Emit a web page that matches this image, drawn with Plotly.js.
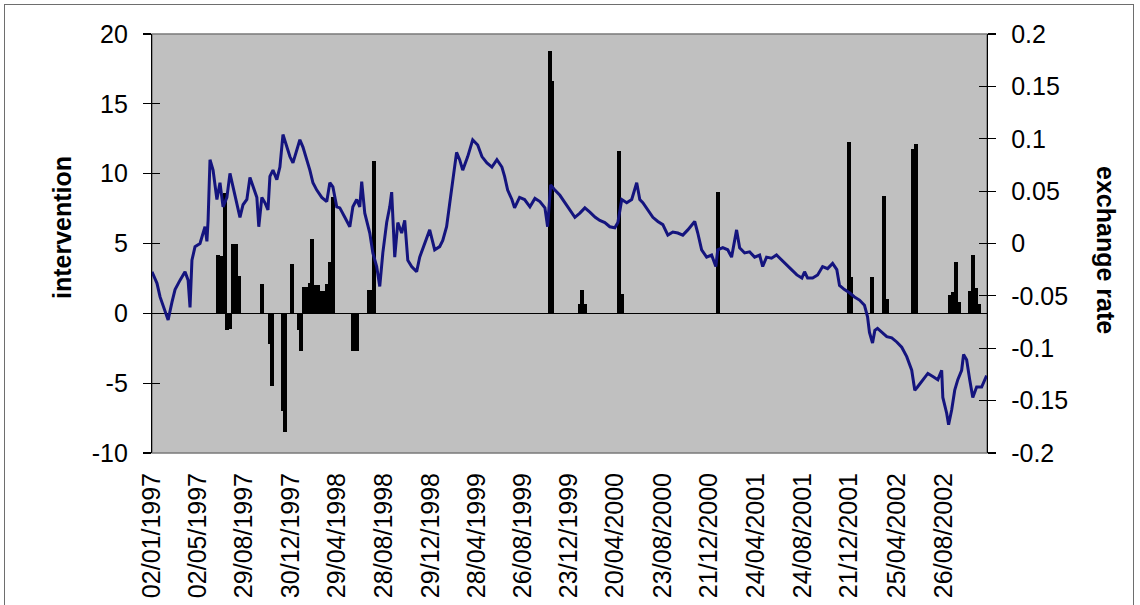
<!DOCTYPE html>
<html>
<head>
<meta charset="utf-8">
<script src="https://cdn.plot.ly/plotly-3.0.1.min.js"></script>
<style>
  html, body { margin:0; padding:0; background:#fff; }
  #wrap { position:relative; width:1140px; height:605px; overflow:hidden; }
  #chart { position:absolute; left:0; top:0; width:1140px; height:605px; }
  #frame { position:absolute; left:4px; top:4px; width:1128px; height:640px; border:1px solid #6e6e6e; pointer-events:none; }
</style>
</head>
<body>
<div id="wrap"><div id="chart"></div><div id="frame"></div></div>
<script>
// ---- Data ----
const lineDates = [
'1997-01-02','1997-01-15','1997-01-23','1997-01-31','1997-02-13','1997-02-23','1997-03-03','1997-03-16','1997-03-29','1997-04-06',
'1997-04-11','1997-04-16','1997-04-24','1997-05-07','1997-05-20','1997-05-25','1997-05-28','1997-06-02','1997-06-10','1997-06-20',
'1997-06-28','1997-07-06','1997-07-16','1997-07-24','1997-08-01','1997-08-11','1997-08-19','1997-08-27','1997-09-06','1997-09-14',
'1997-09-22','1997-10-02','1997-10-07','1997-10-15','1997-10-23','1997-10-31','1997-11-05','1997-11-13','1997-11-23','1997-12-01',
'1997-12-09','1997-12-19','1997-12-27','1998-01-04','1998-01-14','1998-01-22','1998-01-30','1998-02-09','1998-02-17','1998-02-25',
'1998-03-07','1998-03-20','1998-04-02','1998-04-10','1998-04-18','1998-04-28','1998-05-06','1998-05-19','1998-06-01','1998-06-09',
'1998-06-19','1998-06-27','1998-07-02','1998-07-10','1998-07-23','1998-07-31','1998-08-10','1998-08-18','1998-08-26','1998-09-05',
'1998-09-13','1998-09-18','1998-09-21','1998-09-26','1998-10-04','1998-10-14','1998-10-22','1998-10-30','1998-11-09','1998-11-22',
'1998-11-30','1998-12-13','1998-12-26','1999-01-08','1999-01-21','1999-01-29','1999-02-08','1999-02-16','1999-02-24','1999-03-06',
'1999-03-14','1999-03-22','1999-04-04','1999-04-17','1999-04-30','1999-05-11','1999-05-24','1999-06-06','1999-06-19','1999-07-02',
'1999-07-09','1999-07-17','1999-07-28','1999-08-04','1999-08-17','1999-08-30','1999-09-13','1999-09-26','1999-10-09','1999-10-22',
'1999-10-29','1999-11-06','1999-11-17','1999-11-30','1999-12-13','1999-12-26','2000-01-08','2000-01-21','2000-02-03','2000-02-16',
'2000-03-01','2000-03-13','2000-03-26','2000-04-08','2000-04-21','2000-04-29','2000-05-09','2000-05-22','2000-06-04','2000-06-17',
'2000-06-25','2000-07-03','2000-07-16','2000-07-29','2000-08-11','2000-08-24','2000-09-06','2000-09-19','2000-10-02','2000-10-15',
'2000-10-28','2000-11-15','2000-11-23','2000-12-03','2000-12-16','2000-12-29','2001-01-09','2001-01-14','2001-01-27','2001-02-09',
'2001-02-19','2001-02-27','2001-03-04','2001-03-12','2001-03-25','2001-04-07','2001-04-20','2001-05-03','2001-05-11','2001-05-21',
'2001-06-03','2001-06-16','2001-06-29','2001-07-12','2001-07-25','2001-08-08','2001-08-21','2001-08-28','2001-09-05','2001-09-18',
'2001-10-01','2001-10-14','2001-10-27','2001-11-09','2001-11-20','2001-11-27','2001-12-10','2001-12-23','2002-01-05','2002-01-18',
'2002-01-31','2002-02-08','2002-02-13','2002-02-21','2002-02-27','2002-03-06','2002-03-17','2002-03-30','2002-04-12','2002-04-25',
'2002-05-08','2002-05-21','2002-06-03','2002-06-11','2002-06-18','2002-07-02','2002-07-15','2002-07-28','2002-08-10','2002-08-20',
'2002-08-23','2002-09-02','2002-09-07','2002-09-15','2002-09-23','2002-10-01','2002-10-11','2002-10-16','2002-10-24','2002-11-01',
'2002-11-09','2002-11-19','2002-12-02','2002-12-15'
];
const exchangeRate = [
-0.027,-0.038,-0.051,-0.059,-0.073,-0.056,-0.044,-0.035,-0.027,-0.035,
-0.061,-0.016,-0.003,0.000,0.016,0.002,0.022,0.080,0.070,0.042,
0.058,0.035,0.044,0.067,0.054,0.039,0.025,0.037,0.042,0.063,
0.054,0.044,0.016,0.044,0.039,0.032,0.064,0.070,0.061,0.073,
0.104,0.092,0.083,0.077,0.089,0.099,0.092,0.080,0.070,0.058,
0.051,0.044,0.040,0.058,0.054,0.035,0.034,0.025,0.016,0.035,
0.042,0.035,0.059,0.029,0.010,-0.009,-0.022,-0.041,-0.009,0.020,
0.035,0.049,0.025,-0.013,0.020,0.010,0.022,-0.016,-0.022,-0.027,
-0.013,0.000,0.013,-0.006,-0.003,0.003,0.016,0.038,0.061,0.087,
0.080,0.070,0.083,0.099,0.094,0.083,0.077,0.073,0.080,0.073,
0.064,0.051,0.042,0.034,0.044,0.042,0.035,0.043,0.040,0.034,
0.016,0.056,0.051,0.046,0.039,0.032,0.025,0.029,0.034,0.030,
0.025,0.022,0.020,0.016,0.015,0.020,0.042,0.039,0.042,0.058,
0.042,0.039,0.032,0.025,0.021,0.018,0.008,0.011,0.010,0.008,
0.013,0.021,0.010,-0.006,-0.013,-0.011,-0.022,-0.006,-0.004,-0.006,
-0.013,0.005,0.013,-0.004,-0.009,-0.008,-0.013,-0.011,-0.022,-0.013,
-0.014,-0.011,-0.016,-0.021,-0.025,-0.030,-0.033,-0.027,-0.033,-0.033,
-0.030,-0.022,-0.024,-0.019,-0.025,-0.040,-0.044,-0.047,-0.051,-0.054,
-0.059,-0.070,-0.085,-0.095,-0.083,-0.081,-0.085,-0.089,-0.090,-0.094,
-0.099,-0.108,-0.121,-0.140,-0.137,-0.130,-0.124,-0.127,-0.130,-0.121,
-0.147,-0.162,-0.173,-0.159,-0.140,-0.130,-0.121,-0.106,-0.111,-0.130,
-0.147,-0.137,-0.137,-0.126
];
const barDates = [
'1997-06-22','1997-06-30','1997-07-11','1997-07-16','1997-07-24','1997-08-01','1997-08-08','1997-08-16','1997-10-15','1997-11-05',
'1997-11-10','1997-12-09','1997-12-14','1998-01-01','1998-01-19','1998-01-24','1998-02-01','1998-02-09','1998-02-17','1998-02-22',
'1998-03-02','1998-03-10','1998-03-17','1998-03-25','1998-04-02','1998-04-10','1998-04-18','1998-06-09','1998-06-19','1998-07-20',
'1998-07-26','1998-08-02','1999-11-04','1999-11-09','2000-01-21','2000-01-26','2000-02-03','2000-05-01','2000-05-09','2001-01-14',
'2001-12-21','2001-12-26','2002-02-19','2002-03-22','2002-03-30','2002-06-06','2002-06-14','2002-09-10','2002-09-18','2002-09-26',
'2002-10-04','2002-11-01','2002-11-09','2002-11-17','2002-11-25'
];
const intervention = [
4.2,4.1,8.6,-1.2,-1.1,5.0,5.0,2.7,2.1,-2.2,
-5.2,-7.0,-8.5,3.5,-1.2,-2.7,1.9,1.9,2.2,5.3,
2.0,2.0,1.6,1.6,2.1,3.7,8.3,-2.7,-2.7,1.7,
1.7,10.9,18.8,16.6,0.7,1.7,0.7,11.6,1.4,8.7,
12.3,2.6,2.6,8.4,1.0,11.8,12.1,1.3,1.5,3.7,
0.8,1.6,4.2,1.8,0.7
];
const xTickDates = ['1997-01-02','1997-05-02','1997-08-29','1997-12-30','1998-04-29','1998-08-28','1998-12-29','1999-04-28','1999-08-26',
  '1999-12-23','2000-04-20','2000-08-23','2000-12-21','2001-04-24','2001-08-24','2001-12-21','2002-04-25','2002-08-26'];
const xTickText = ['02/01/1997','02/05/1997','29/08/1997','30/12/1997','29/04/1998','28/08/1998','29/12/1998','28/04/1999','26/08/1999',
  '23/12/1999','20/04/2000','23/08/2000','21/12/2000','24/04/2001','24/08/2001','21/12/2001','25/04/2002','26/08/2002'];
const leftTickVals = [-10,-5,0,5,10,15,20];
const leftTickText = ['-10','-5','0','5','10','15','20'];
const rightTickVals = [-0.2,-0.15,-0.1,-0.05,0,0.05,0.1,0.15,0.2];
const rightTickText = ['-0.2','-0.15','-0.1','-0.05','0','0.05','0.1','0.15','0.2'];
const xRange = ['1997-01-02','2002-12-16'];
const leftTitle = 'intervention';
const rightTitle = 'exchange rate';

// ---- Chart ----
const DAY = 86400000;
const barTrace = {
  type:'bar', x:barDates, y:intervention, yaxis:'y',
  marker:{color:'#000000', line:{width:0}},
  width: barDates.map(() => 10*DAY),
  hoverinfo:'skip'
};
const lineTrace = {
  type:'scatter', mode:'lines', x:lineDates, y:exchangeRate, yaxis:'y2',
  line:{color:'#14147e', width:3},
  hoverinfo:'skip'
};
// invisible helper traces so the inner halves of the crossing tick marks get drawn
const tickHelperL = {type:'scatter', mode:'lines', x:[xRange[0]], y:[null], yaxis:'y3', hoverinfo:'skip', line:{width:0}};
const tickHelperR = {type:'scatter', mode:'lines', x:[xRange[0]], y:[null], yaxis:'y4', hoverinfo:'skip', line:{width:0}};
const FONT = 'Liberation Sans, Arial, sans-serif';
const layout = {
  width:1140, height:605,
  margin:{l:152, r:153, t:34, b:152, pad:0},
  paper_bgcolor:'#ffffff', plot_bgcolor:'#c0c0c0',
  font:{family:FONT, size:25, color:'#000'},
  showlegend:false, bargap:0, barmode:'overlay',
  xaxis:{type:'date', range:xRange, tickmode:'array', tickvals:xTickDates, ticktext:xTickText,
    tickangle:-90, ticks:'', showgrid:false, showline:false, zeroline:false,
    tickfont:{family:FONT, size:25, color:'#000'}, ticklabelstandoff:14, fixedrange:true},
  yaxis:{range:[-10,20], tickmode:'array', tickvals:leftTickVals, ticktext:leftTickText,
    ticks:'outside', ticklen:8, tickwidth:1.2, tickcolor:'#000', showline:true, linecolor:'#000', linewidth:1.2,
    showgrid:false, zeroline:true, zerolinecolor:'#000', zerolinewidth:1.2, ticklabelstandoff:10,
    tickfont:{family:FONT, size:25, color:'#000'}},
  yaxis2:{overlaying:'y', side:'right', range:[-0.2,0.2], tickmode:'array', tickvals:rightTickVals, ticktext:rightTickText,
    ticks:'outside', ticklen:8, tickwidth:1.2, tickcolor:'#000', showline:true, linecolor:'#000', linewidth:1.2,
    showgrid:false, zeroline:false, ticklabelstandoff:10, tickfont:{family:FONT, size:25, color:'#000'}},
  yaxis3:{overlaying:'y', side:'left', range:[-10,20], tickmode:'array', tickvals:leftTickVals,
    ticks:'inside', ticklen:8, tickwidth:1.2, tickcolor:'#000', showticklabels:false, showgrid:false, zeroline:false, showline:false},
  yaxis4:{overlaying:'y', side:'right', range:[-0.2,0.2], tickmode:'array', tickvals:rightTickVals,
    ticks:'inside', ticklen:8, tickwidth:1.2, tickcolor:'#000', showticklabels:false, showgrid:false, zeroline:false, showline:false},
  shapes:[{type:'rect', xref:'paper', yref:'paper', x0:0, x1:1, y0:0, y1:1, line:{color:'#7a7a7a', width:1.5}, layer:'below'}],
  annotations:[
    {text:leftTitle, xref:'paper', yref:'paper', x:(62-152)/835, y:(453-228)/419, xanchor:'center', yanchor:'middle',
     textangle:-90, showarrow:false, font:{family:FONT, size:25, color:'#000', weight:'bold'}},
    {text:rightTitle, xref:'paper', yref:'paper', x:(1106-152)/835, y:(453-250)/419, xanchor:'center', yanchor:'middle',
     textangle:90, showarrow:false, font:{family:FONT, size:25, color:'#000', weight:'bold'}}
  ]
};
Plotly.newPlot('chart', [barTrace, lineTrace, tickHelperL, tickHelperR], layout, {displayModeBar:false, staticPlot:true});
</script>
</body>
</html>
